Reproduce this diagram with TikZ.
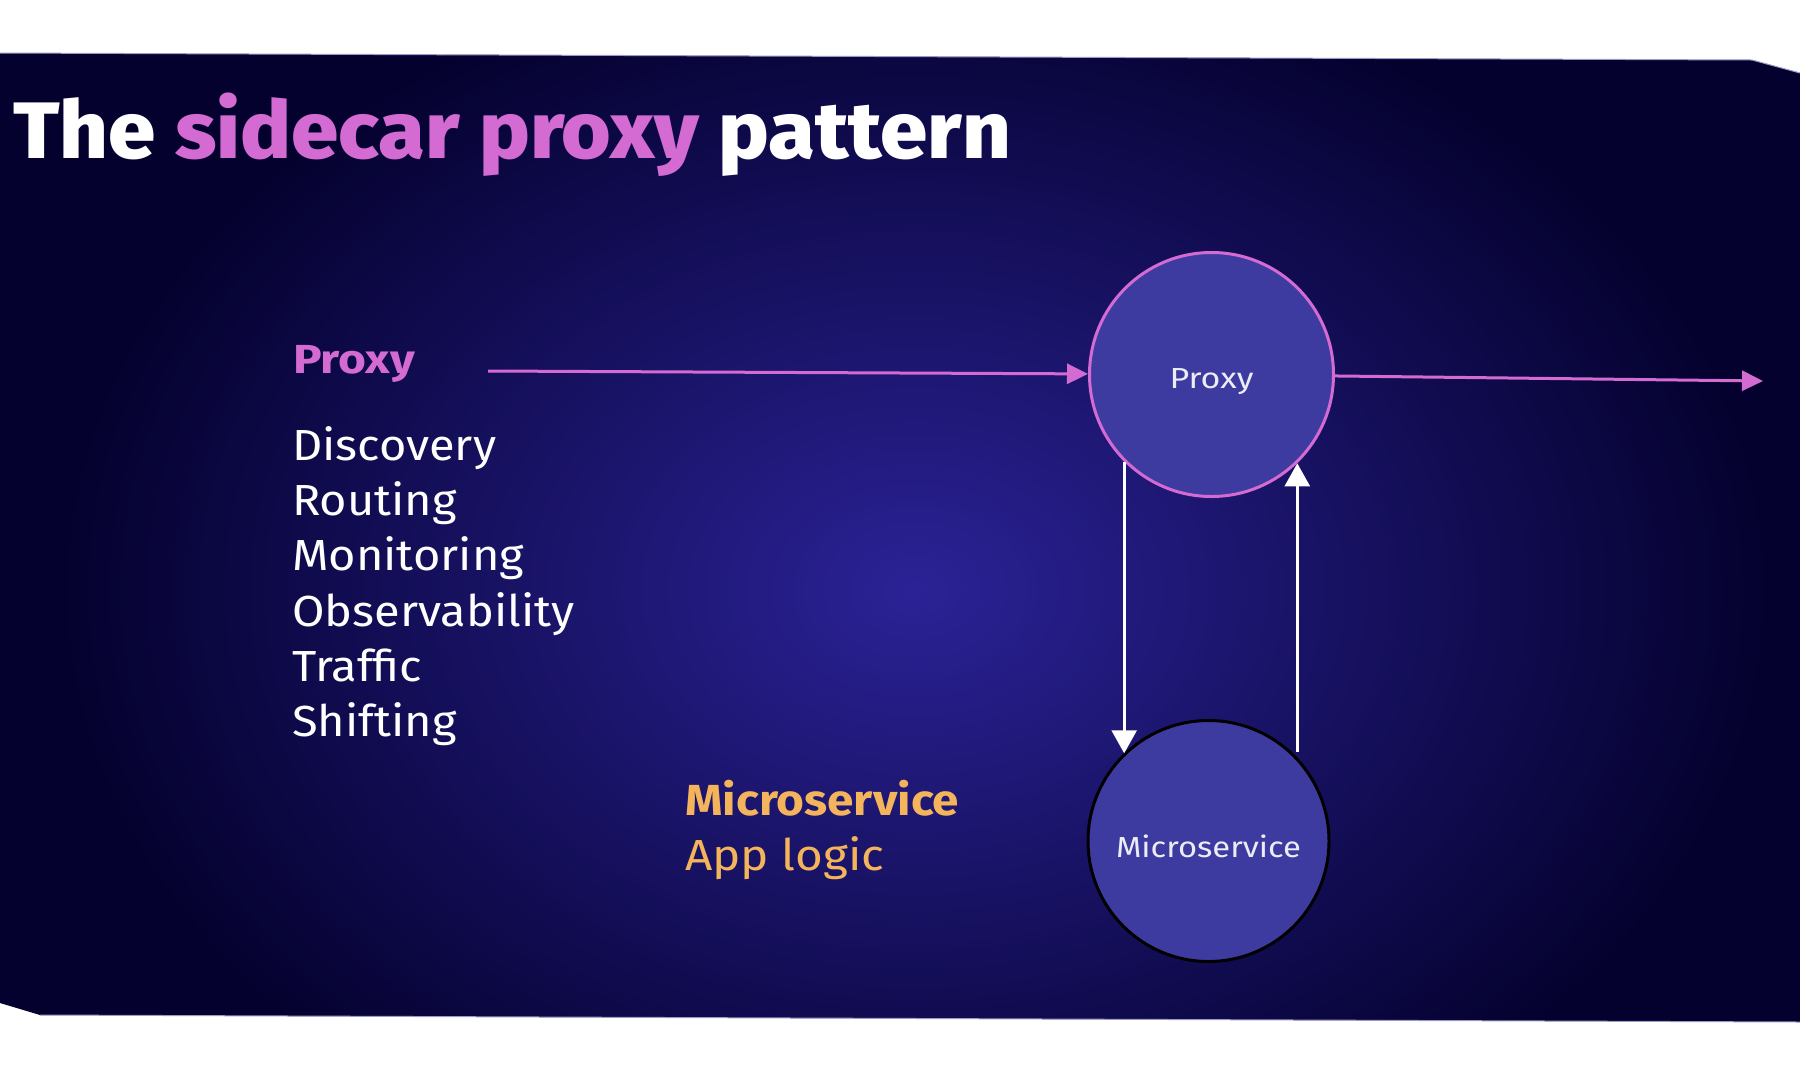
\documentclass[tikz,border=0pt]{standalone}
\usepackage{fontspec}
\setmainfont{Fira Sans}
\newfontface\titlefont{Fira Sans ExtraBold}
\usetikzlibrary{arrows.meta}
\definecolor{bgdark}{HTML}{04012E}
\definecolor{bgmid}{HTML}{2B2296}
\definecolor{pinkc}{HTML}{D36BD3}
\definecolor{orangec}{HTML}{F4B45C}
\definecolor{circfill}{HTML}{3E3BA0}
\definecolor{circtext}{HTML}{ECECF6}
\definecolor{edgec}{HTML}{9A98C8}
\newlength\fitlen
\newcommand\fitw[2]{\settowidth\fitlen{#2}\pgfmathsetmacro\fitr{#1/\fitlen}\scalebox{\fitr}[1]{#2}}
\tikzset{
  fs/.style={font=\fontsize{#1}{#1}\selectfont},
  plain/.style={anchor=base west, inner sep=0pt},
  listitem/.style={plain, text=white, fs=43.5},
  bubble/.style={circle, minimum size=244pt, inner sep=0pt, fill=circfill, line width=3pt, text=circtext, fs=29, text depth=0pt},
  pinkarrow/.style={draw=pinkc, line width=3pt, -{Triangle[length=21pt,width=20pt]}},
  whitearrow/.style={draw=white, line width=2.8pt, -{Triangle[length=23pt,width=25pt]}},
}
\begin{document}
\begin{tikzpicture}[x=1pt,y=-1pt]
\useasboundingbox (0,0) rectangle (1800,1080);
\fill[white] (0,0) rectangle (1800,1080);
\begin{scope}
  \clip (0,53) -- (1752,60) -- (1800,73) -- (1800,1022) -- (40,1015) -- (0,1003) -- cycle;
  \fill[bgdark] (0,0) rectangle (1800,1080);
  \shade[inner color=bgmid, outer color=bgdark] (915,590) ellipse (860 and 640);
\end{scope}
\draw[edgec, line width=1pt] (0,53) -- (1752,60) -- (1800,73);
\draw[edgec, line width=1pt] (40,1015) -- (1800,1022);

\node[plain, text=white, font=\titlefont\fontsize{80}{80}\selectfont] (title) at (13,158)
  {\fitw{998}{The \textcolor{pinkc}{sidecar proxy} pattern}};

\node[plain, text=pinkc, font=\bfseries\fontsize{40.6}{40.6}\selectfont] (proxylabel) at (293,373) {\fitw{122}{Proxy}};
\node[listitem] (l1) at (292,460) {\scalebox{1.08}[1]{Discovery}};
\node[listitem] (l2) at (292,515) {\scalebox{1.08}[1]{Routing}};
\node[listitem] (l3) at (292,570) {\scalebox{1.08}[1]{Monitoring}};
\node[listitem] (l4) at (292,626) {\scalebox{1.08}[1]{Observability}};
\node[listitem] (l5) at (292,681) {\scalebox{1.08}[1]{Traffic}};
\node[listitem] (l6) at (292,736) {\scalebox{1.08}[1]{Shifting}};

\node[plain, text=orangec, font=\bfseries\fontsize{43.5}{43.5}\selectfont] (mlabel) at (685,815) {\fitw{274}{Microservice}};
\node[plain, text=orangec, fs=43.5] (alabel) at (685,870) {\fitw{199}{App logic}};

\node[bubble, draw=pinkc, text height=27pt] (proxy) at (1211.5,374.5) {\fitw{84}{Proxy}};
\node[bubble, draw=black, minimum size=241pt, text height=32pt] (micro) at (1208.5,841) {\fitw{185}{Microservice}};

\coordinate (ps) at (488,371);
\coordinate (pe) at (1763,381);
\draw[pinkarrow] (ps) -- (proxy);
\draw[pinkarrow] (proxy) -- (pe);
\draw[whitearrow] (proxy.-135) -- (proxy.-135 |- micro.134);
\draw[whitearrow] (proxy.-46 |- micro.47) -- (proxy.-46);
\end{tikzpicture}
\end{document}
